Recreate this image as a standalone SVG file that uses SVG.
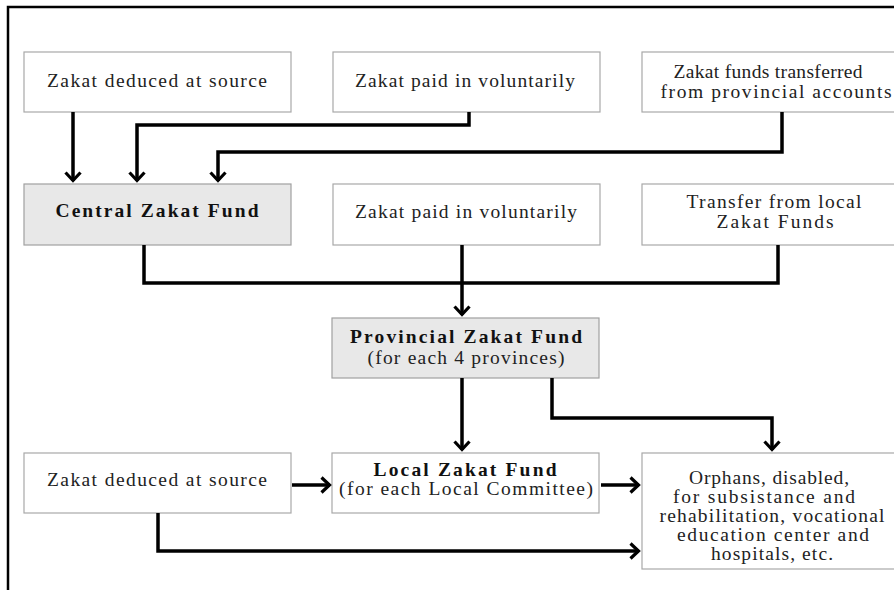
<svg xmlns="http://www.w3.org/2000/svg" width="894" height="590" viewBox="0 0 894 590">
  <style>
    .box { fill: #ffffff; stroke: #a8a8a8; stroke-width: 1.2; }
    .fund { fill: #e8e8e8; stroke: #a0a0a0; stroke-width: 1.2; }
    .t { font-family: "Liberation Serif", "Times New Roman", serif; font-size: 19.5px; fill: #222; text-anchor: middle; }
    .b { font-weight: bold; fill: #111; }
    .wire { fill: none; stroke: #000; stroke-width: 3.5; stroke-linejoin: miter; }
    .arr { marker-end: url(#chev); }
  </style>
  <defs>
    <marker id="chev" markerUnits="userSpaceOnUse" markerWidth="20" markerHeight="20" viewBox="-12 -10 14 20" refX="0" refY="0" orient="auto">
      <path d="M -8.5,-7.5 L -0.5,0 L -8.5,7.5" fill="none" stroke="#000" stroke-width="3.2"/>
    </marker>
  </defs>

  <rect x="0" y="0" width="894" height="590" fill="#ffffff"/>
  <!-- outer frame -->
  <rect x="8" y="7" width="900" height="600" fill="none" stroke="#000" stroke-width="2.5"/>

  <!-- sources of the central fund -->
  <g id="src-deduced-top">
    <rect class="box" x="24" y="52" width="267" height="60"/>
    <text class="t" x="157" y="87" textLength="220" lengthAdjust="spacing">Zakat deduced at source</text>
  </g>
  <g id="src-voluntary-top">
    <rect class="box" x="333" y="52" width="267" height="60"/>
    <text class="t" x="465" y="87" textLength="220" lengthAdjust="spacing">Zakat paid in voluntarily</text>
  </g>
  <g id="src-provincial-accounts">
    <rect class="box" x="642" y="52" width="264" height="60"/>
    <text class="t" x="768" y="78" textLength="189" lengthAdjust="spacing">Zakat funds transferred</text>
    <text class="t" x="776" y="98" textLength="231" lengthAdjust="spacing">from provincial accounts</text>
  </g>

  <!-- second row -->
  <g id="central-fund">
    <rect class="fund" x="24" y="184" width="267" height="61"/>
    <text class="t b" x="157" y="217" textLength="203" lengthAdjust="spacing">Central Zakat Fund</text>
  </g>
  <g id="src-voluntary-mid">
    <rect class="box" x="333" y="184" width="267" height="61"/>
    <text class="t" x="466" y="218" textLength="222" lengthAdjust="spacing">Zakat paid in voluntarily</text>
  </g>
  <g id="src-local-transfer">
    <rect class="box" x="642" y="184" width="264" height="61"/>
    <text class="t" x="774" y="208" textLength="175" lengthAdjust="spacing">Transfer from local</text>
    <text class="t" x="775" y="228" textLength="117" lengthAdjust="spacing">Zakat Funds</text>
  </g>

  <!-- provincial fund -->
  <g id="provincial-fund">
    <rect class="fund" x="332" y="318" width="267" height="60"/>
    <text class="t b" x="466" y="343" textLength="232" lengthAdjust="spacing">Provincial Zakat Fund</text>
    <text class="t" x="466" y="364" textLength="197" lengthAdjust="spacing">(for each 4 provinces)</text>
  </g>

  <!-- bottom row -->
  <g id="src-deduced-bottom">
    <rect class="box" x="24" y="453" width="267" height="60"/>
    <text class="t" x="157" y="486" textLength="220" lengthAdjust="spacing">Zakat deduced at source</text>
  </g>
  <g id="local-fund">
    <rect class="box" x="332" y="453" width="267" height="60"/>
    <text class="t b" x="465" y="476" textLength="183" lengthAdjust="spacing">Local Zakat Fund</text>
    <text class="t" x="466" y="495" textLength="254" lengthAdjust="spacing">(for each Local Committee)</text>
  </g>
  <g id="beneficiaries">
    <rect class="box" x="642" y="453" width="264" height="116"/>
    <text class="t" x="769" y="484" textLength="160" lengthAdjust="spacing">Orphans, disabled,</text>
    <text class="t" x="764" y="503" textLength="182" lengthAdjust="spacing">for subsistance and</text>
    <text class="t" x="772" y="522" textLength="225" lengthAdjust="spacing">rehabilitation, vocational</text>
    <text class="t" x="773" y="541" textLength="192" lengthAdjust="spacing">education center and</text>
    <text class="t" x="772" y="560" textLength="122" lengthAdjust="spacing">hospitals, etc.</text>
  </g>

  <!-- connectors -->
  <g id="connectors">
    <path class="wire arr" d="M 73,112 V 181"/>
    <path class="wire arr" d="M 469,112 V 125 H 137 V 181"/>
    <path class="wire arr" d="M 782,112 V 152 H 218 V 181"/>
    <path class="wire" d="M 144,245 V 283 H 778 V 245"/>
    <path class="wire arr" d="M 462,245 V 315"/>
    <path class="wire arr" d="M 462,378 V 450"/>
    <path class="wire arr" d="M 552,378 V 418 H 772 V 450"/>
    <path class="wire arr" d="M 292,485 H 330"/>
    <path class="wire arr" d="M 601,485 H 639"/>
    <path class="wire arr" d="M 158,513 V 551 H 639"/>
  </g>
</svg>
